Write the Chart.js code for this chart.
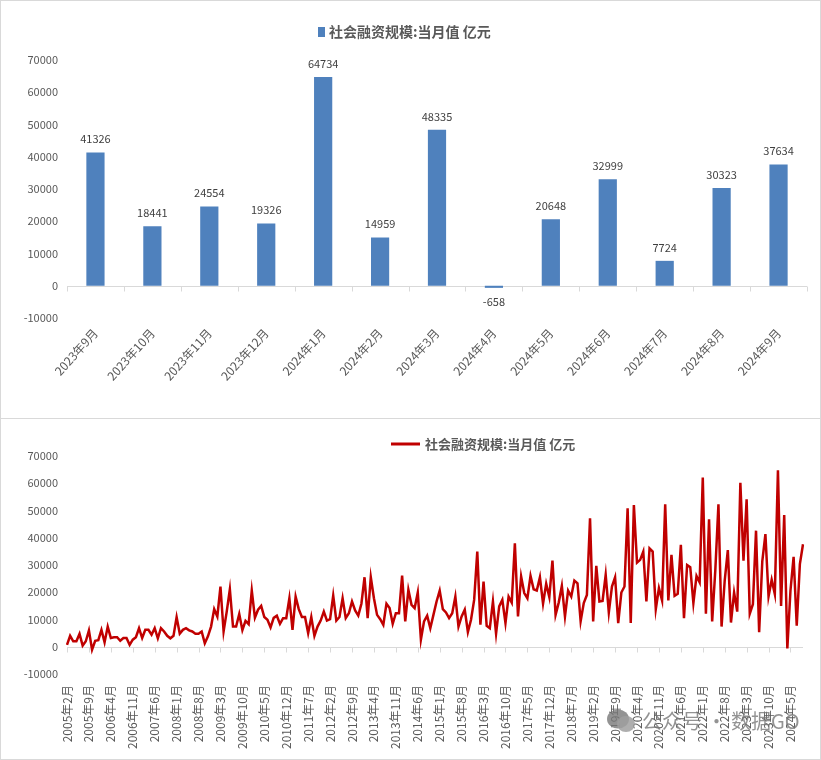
<!DOCTYPE html>
<html>
<head>
<meta charset="utf-8">
<script src="https://cdn.jsdelivr.net/npm/chart.js@4.4.1/dist/chart.umd.min.js"></script>
<style>
  body { margin: 0; background: #fff; }
  .box { position: absolute; left: 0; width: 821px; border: 1px solid #d9d9d9; box-sizing: border-box; background: #fff; }
  #topBox { top: 0; height: 419px; }
  #bottomBox { top: 418px; height: 342px; }
  .box canvas { position: absolute; left: 0; top: 0; }
  #mark { position: absolute; left: 606px; top: 706px; font: 20px "Noto Sans CJK SC", sans-serif; color: rgba(120,120,120,0.8); display: flex; align-items: center; gap: 6px; z-index: 5; }
</style>
</head>
<body>
<div class="box" id="topBox"><canvas id="barChart" width="819" height="417"></canvas></div>
<div class="box" id="bottomBox"><canvas id="lineChart" width="819" height="340"></canvas></div>
<div id="mark">
  <svg width="30" height="26" viewBox="0 0 30 26"><ellipse cx="12" cy="11" rx="11" ry="9.5" fill="rgba(120,120,120,0.8)"/><ellipse cx="20" cy="16" rx="9" ry="8" fill="rgba(160,160,160,0.85)"/></svg>
  <span>公众号 · 数据GO</span>
</div>
<script>
// top chart: last 13 months
const barLabels = ['2023年9月', '2023年10月', '2023年11月', '2023年12月', '2024年1月', '2024年2月', '2024年3月',
                   '2024年4月', '2024年5月', '2024年6月', '2024年7月', '2024年8月', '2024年9月'];
const barValues = [41326, 18441, 24554, 19326, 64734, 14959, 48335, -658, 20648, 32999, 7724, 30323, 37634];

// bottom chart: monthly values, 2005年2月 .. 2024年9月
const line2005to2009 = [
  700, 4000, 2000, 2000, 4700, 400, 2000, 6000, -1100, 2200, 2400,
  6200, 1600, 7400, 3200, 3500, 3500, 2200, 3200, 3200, 700, 2600, 3500,
  6800, 3200, 6200, 6200, 4400, 6800, 3100, 6800, 5600, 4000, 3100, 4000,
  10900, 4800, 6200, 6800, 6000, 5600, 4800, 4800, 5600, 1300, 3800, 7400,
  13800, 11100, 22100, 5600, 12900, 21100, 7400, 7400, 12000, 6100, 9500, 8300
];
const line2010to2014 = [
  20600, 10700, 13600, 15000, 10900, 9900, 7100, 10600, 11400, 8400, 10500, 10500,
  17800, 6200, 18400, 13800, 10900, 10900, 5000, 10900, 4000, 7400, 9600, 12900,
  9600, 10100, 18800, 9600, 10900, 17800, 10500, 12300, 16600, 13300, 11400, 15800,
  25500, 10500, 25500, 17800, 11700, 10100, 8000, 15800, 14200, 8400, 12300, 12300,
  26100, 9300, 20900, 15400, 14200, 19900, 2600, 9300, 11400, 6800, 11700, 16600
];
const line2015to2019 = [
  20600, 13800, 12600, 10500, 12300, 18400, 7400, 11100, 13600, 5400, 9900, 17200,
  34900, 8100, 23900, 7700, 6800, 16600, 4800, 14800, 17200, 8700, 18400, 16200,
  38000, 11100, 25800, 19700, 17800, 26000, 21100, 20600, 25500, 15800, 23100, 18200,
  31600, 11700, 16200, 22300, 11100, 20600, 18400, 24300, 23300, 9300, 16000, 19000,
  47100, 9300, 29700, 16600, 16800, 26400, 12600, 22100, 25500, 8700, 19900, 22100
];
const line2020to2024 = [
  50800, 8700, 52000, 30900, 31900, 34900, 16600, 36100, 34900, 13800, 21500, 17000,
  52300, 17000, 33700, 18700, 19400, 37400, 10500, 30000, 29200, 16000, 26000, 23600,
  62100, 12100, 46800, 9300, 28000, 52300, 7400, 24300, 35500, 8900, 19900, 12900,
  60200, 31600, 54100, 12100, 15600, 42600, 5300, 31300, 41326, 18441, 24554, 19326,
  64734, 14959, 48335, -658, 20648, 32999, 7724, 30323, 37634
];
const lineStartYear = 2005, lineStartMonth = 2;
const yTicksMin = -10000, yTicksMax = 70000, yTicksStep = 10000;
const seriesName = '社会融资规模:当月值 亿元';

const lineValues = [].concat(line2005to2009, line2010to2014, line2015to2019, line2020to2024);
const lineLabels = lineValues.map((v, i) => {
  const m = lineStartMonth - 1 + i;
  return (lineStartYear + Math.floor(m / 12)) + '年' + (m % 12 + 1) + '月';
});

Chart.defaults.font.family = '"Noto Sans CJK SC", sans-serif';
Chart.defaults.font.size = 11;
Chart.defaults.color = '#595959';

// zero line with small tick marks, like the excel category axis
const axisLine = {
  id: 'axisLine',
  beforeDatasetsDraw(chart, args, opts) {
    const { ctx, chartArea: a, scales: { x, y } } = chart;
    const y0 = Math.round(y.getPixelForValue(0)) + 0.5;
    let xs = [];
    if (opts.mode === 'edges') {
      const n = chart.data.labels.length;
      for (let k = 0; k <= n; k++) xs.push(a.left + k * a.width / n);
    } else {
      xs = x.ticks.map((t, i) => x.getPixelForTick(i));
    }
    ctx.save();
    ctx.strokeStyle = '#d9d9d9';
    ctx.lineWidth = 1;
    ctx.beginPath();
    ctx.moveTo(a.left, y0);
    ctx.lineTo(a.right, y0);
    xs.forEach(px => {
      px = Math.round(px) + 0.5;
      ctx.moveTo(px, y0);
      ctx.lineTo(px, y0 + 5);
    });
    ctx.stroke();
    ctx.restore();
  }
};

// legend drawn at a fixed spot
const flatLegend = {
  id: 'flatLegend',
  afterDraw(chart, args, o) {
    const ctx = chart.ctx;
    const ds = chart.data.datasets[0];
    ctx.save();
    if (o.kind === 'box') {
      ctx.fillStyle = ds.backgroundColor;
      ctx.fillRect(o.x, o.y - 5, 7, 10);
    } else {
      ctx.strokeStyle = ds.borderColor;
      ctx.lineWidth = 3;
      ctx.beginPath();
      ctx.moveTo(o.x, o.y);
      ctx.lineTo(o.x + 29, o.y);
      ctx.stroke();
    }
    ctx.font = 'bold ' + o.size + 'px "Noto Sans CJK SC"';
    ctx.fillStyle = '#595959';
    ctx.textBaseline = 'middle';
    ctx.fillText(ds.label, o.x + (o.kind === 'box' ? 11 : 34), o.y);
    ctx.restore();
  }
};

const barValueLabels = {
  id: 'barValueLabels',
  afterDatasetsDraw(chart) {
    const ctx = chart.ctx;
    const meta = chart.getDatasetMeta(0);
    const data = chart.data.datasets[0].data;
    ctx.save();
    ctx.font = '11px "Noto Sans CJK SC"';
    ctx.fillStyle = '#404040';
    ctx.textAlign = 'center';
    meta.data.forEach((bar, i) => {
      if (data[i] >= 0) {
        ctx.textBaseline = 'bottom';
        ctx.fillText(data[i], bar.x, bar.y - 8);
      } else {
        ctx.textBaseline = 'top';
        ctx.fillText(data[i], bar.x, bar.y + 8);
      }
    });
    ctx.restore();
  }
};

const plainNumber = v => String(v);

new Chart('barChart', {
  type: 'bar',
  data: {
    labels: barLabels,
    datasets: [{
      label: seriesName,
      data: barValues,
      backgroundColor: '#4F81BD',
      categoryPercentage: 1,
      barPercentage: 0.32
    }]
  },
  plugins: [axisLine, flatLegend, barValueLabels],
  options: {
    responsive: false,
    animation: false,
    layout: { padding: { top: 59, right: 13, left: 0, bottom: 0 } },
    plugins: {
      legend: { display: false },
      tooltip: { enabled: false },
      axisLine: { mode: 'edges' },
      flatLegend: { kind: 'box', x: 317, y: 31, size: 14 }
    },
    scales: {
      x: {
        grid: { display: false, drawTicks: false },
        border: { display: false },
        ticks: { autoSkip: false, maxRotation: 48, minRotation: 48, padding: 8, font: { size: 12 } },
        afterFit: axis => { axis.height = 100; }
      },
      y: {
        min: yTicksMin, max: yTicksMax,
        grid: { display: false, drawTicks: false },
        border: { display: false },
        ticks: { stepSize: yTicksStep, padding: 9, callback: plainNumber },
        afterFit: axis => { axis.width = 66; }
      }
    }
  }
});

new Chart('lineChart', {
  type: 'line',
  data: {
    labels: lineLabels,
    datasets: [{
      label: seriesName,
      data: lineValues,
      borderColor: '#C00000',
      backgroundColor: '#C00000',
      borderWidth: 2.5,
      pointRadius: 0,
      tension: 0
    }]
  },
  plugins: [axisLine, flatLegend],
  options: {
    responsive: false,
    animation: false,
    layout: { padding: { top: 37, right: 17, left: 0, bottom: 0 } },
    plugins: {
      legend: { display: false },
      tooltip: { enabled: false },
      axisLine: { mode: 'ticks' },
      flatLegend: { kind: 'line', x: 390, y: 25, size: 13 }
    },
    scales: {
      x: {
        offset: false,
        grid: { display: false, drawTicks: false },
        border: { display: false },
        ticks: { autoSkip: false, maxRotation: 90, minRotation: 90, padding: 11, font: { size: 12 } },
        afterBuildTicks: axis => { axis.ticks = axis.ticks.filter((t, i) => i % 7 === 0); },
        afterFit: axis => { axis.height = 85; }
      },
      y: {
        min: yTicksMin, max: yTicksMax,
        grid: { display: false, drawTicks: false },
        border: { display: false },
        ticks: { stepSize: yTicksStep, padding: 9, callback: plainNumber },
        afterFit: axis => { axis.width = 66; }
      }
    }
  }
});
</script>
</body>
</html>
